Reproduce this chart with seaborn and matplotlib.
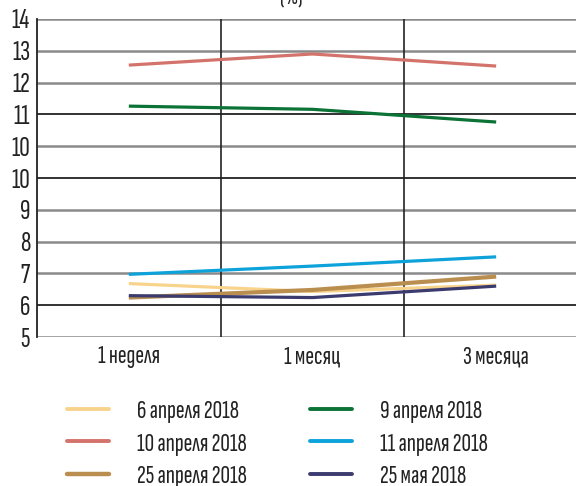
import matplotlib
matplotlib.use("Agg")
import matplotlib.pyplot as plt
import seaborn as sns
import pandas as pd
from matplotlib.lines import Line2D

periods = ["1 неделя", "1 месяц", "3 месяца"]
# values in grid units (gridlines 5..15; the original's labels repeat "10")
s_apr6 = [6.68, 6.43, 6.63]
s_apr10 = [13.55, 13.90, 13.52]
s_apr25 = [6.24, 6.48, 6.90]
s_apr9 = [12.26, 12.16, 11.76]
s_apr11 = [6.97, 7.23, 7.52]
s_may25 = [6.30, 6.24, 6.60]
series_names = ["6 апреля 2018", "10 апреля 2018", "25 апреля 2018",
                "9 апреля 2018", "11 апреля 2018", "25 мая 2018"]
series_vals = [s_apr6, s_apr10, s_apr25, s_apr9, s_apr11, s_may25]
colors = ["#F8D38C", "#D4736B", "#BA8E4F", "#0B7336", "#0DA2DA", "#3B3B70"]
ytick_pos = [5, 6, 7, 8, 9, 10, 11, 12, 13, 14, 15]
ytick_labels = ["5", "6", "7", "8", "9", "10", "10", "11", "12", "13", "14"]

rows = []
for name, vals in zip(series_names, series_vals):
    for i, v in enumerate(vals):
        rows.append({"period": i, "value": v, "series": name})
df = pd.DataFrame(rows)

sns.set_theme(style="white")
FONT = ["Sofia Sans Extra Condensed", "Roboto Condensed", "DejaVu Sans"]
plt.rcParams["font.family"] = FONT
plt.rcParams["font.weight"] = "light"

fig = plt.figure(figsize=(5.76, 4.86), dpi=100)
W, H = 576, 486
left, right, top, bottom = 37, 588, 19, 337
ax = fig.add_axes([left / W, 1 - bottom / H, (right - left) / W, (bottom - top) / H])

dark = {6, 10, 12}
for p in ytick_pos:
    if p in dark:
        ax.axhline(p, color="#222222", lw=1.3, zorder=1)
    else:
        ax.axhline(p, color="#8a8a8a", lw=1.8, zorder=1)
for xv in [0.5, 1.5]:
    ax.axvline(xv, color="#222222", lw=1.2, zorder=1)

sns.lineplot(data=df, x="period", y="value", hue="series", hue_order=series_names,
             palette=colors, ax=ax, linewidth=2.3, legend=False, zorder=3)
for line in ax.lines[-6:]:
    line.set_solid_capstyle("butt")
ax.lines[-4].set_linewidth(3.0)

ax.set_xlim(-0.5, 2.5)
ax.set_ylim(5, 15)
ax.set_xticks([0, 1, 2])
ax.set_xticklabels(periods, fontsize=19, color="#222222")
ax.set_yticks(ytick_pos)
ax.set_yticklabels(ytick_labels, fontsize=21, color="#222222")
ax.tick_params(axis="both", length=0)
ax.tick_params(axis="y", pad=5)
ax.tick_params(axis="x", pad=6)
ax.set_xlabel("")
ax.set_ylabel("")
for s in ["top", "right", "bottom"]:
    ax.spines[s].set_visible(False)
ax.spines["left"].set_color("#222222")
ax.spines["left"].set_linewidth(1.3)

handles = [Line2D([0], [0], color=c, lw=3.2 if n == "25 апреля 2018" else 2.8)
           for n, c in zip(series_names, colors)]
common = dict(ncol=1, frameon=False, fontsize=19, loc="upper left",
              borderpad=0, borderaxespad=0, handlelength=1.6,
              handletextpad=1.05, labelspacing=0.33, labelcolor="#222222")
fig.legend(handles[:3], series_names[:3], bbox_to_anchor=(67 / W, 1 - 400 / H), **common)
fig.legend(handles[3:], series_names[3:], bbox_to_anchor=(310 / W, 1 - 400 / H), **common)

fig.text(291 / W, 1 - 3 / H, "(%)", ha="center", va="baseline", fontsize=17, color="#222222")

fig.savefig("out.png", dpi=100, facecolor="white")
